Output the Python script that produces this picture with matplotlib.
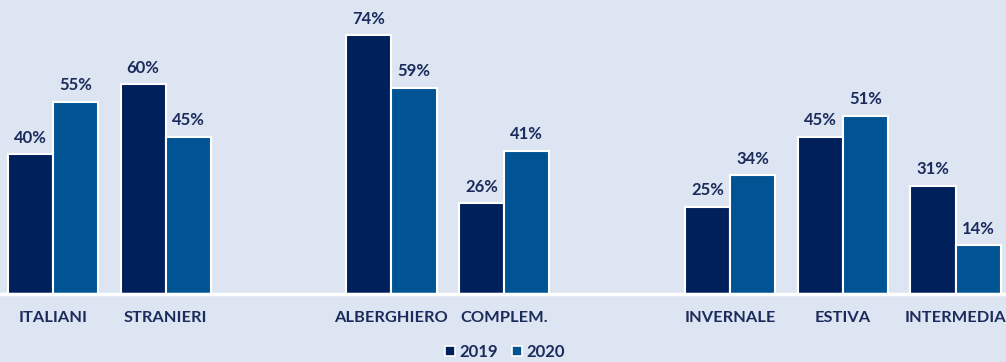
import matplotlib
matplotlib.use("Agg")
import matplotlib.pyplot as plt
from matplotlib.patches import Patch
import numpy as np

categories = ["ITALIANI", "STRANIERI", "", "ALBERGHIERO", "COMPLEM.", "", "INVERNALE", "ESTIVA", "INTERMEDIA"]
values_2019 = [40, 60, None, 74, 26, None, 25, 45, 31]
values_2020 = [55, 45, None, 59, 41, None, 34, 51, 14]
series_names = ["2019", "2020"]

bg = "#dce5f1"
c2019 = "#00205c"
c2020 = "#005494"
txt = "#1b2b5c"

plt.rcParams["font.family"] = ["Lato", "DejaVu Sans"]

W, H = 1006, 362
fig = plt.figure(figsize=(W / 100, H / 100), dpi=100, facecolor=bg)
# axes spans slightly past the figure edges so the slots line up
left_px, right_px = -3.5, 1012
base_px = 294
ax = fig.add_axes([left_px / W, (H - base_px) / H, (right_px - left_px) / W, 280 / H])
ax.set_facecolor(bg)
ax.set_xlim(-0.5, len(categories) - 0.5)
ax.set_ylim(0, 80)
for s in ax.spines.values():
    s.set_visible(False)
ax.set_yticks([])
ax.tick_params(axis="x", length=0, pad=12)

x = np.arange(len(categories))
bw = 0.4
for vals, off, col in [(values_2019, -bw / 2, c2019), (values_2020, bw / 2, c2020)]:
    xs = [xi + off for xi, v in zip(x, vals) if v is not None]
    vs = [v for v in vals if v is not None]
    ax.bar(xs, vs, width=bw, color=col, edgecolor="white", linewidth=1.5, clip_on=False)
    for xi, v in zip(xs, vs):
        ax.annotate(f"{v}%", (xi, v), xytext=(0, 6), textcoords="offset points",
                    ha="center", va="bottom", fontsize=12, fontweight="bold", color=txt)

ax.axhline(0, color="white", linewidth=2.5, clip_on=False, zorder=3)
ax.set_xticks(x)
ax.set_xticklabels(categories, fontsize=11.8, fontweight="bold", color=txt)

handles = [Patch(facecolor=c2019, edgecolor="white", linewidth=1.2),
           Patch(facecolor=c2020, edgecolor="white", linewidth=1.2)]
fig.legend(handles, series_names, loc="center", bbox_to_anchor=(505 / W, 1 - 352 / H),
           ncol=2, frameon=False, handlelength=0.6, handleheight=0.6, handletextpad=0.3,
           columnspacing=0.8, prop={"weight": "bold", "size": 12}, labelcolor=txt)

fig.savefig("out.png", dpi=100, facecolor=bg)
